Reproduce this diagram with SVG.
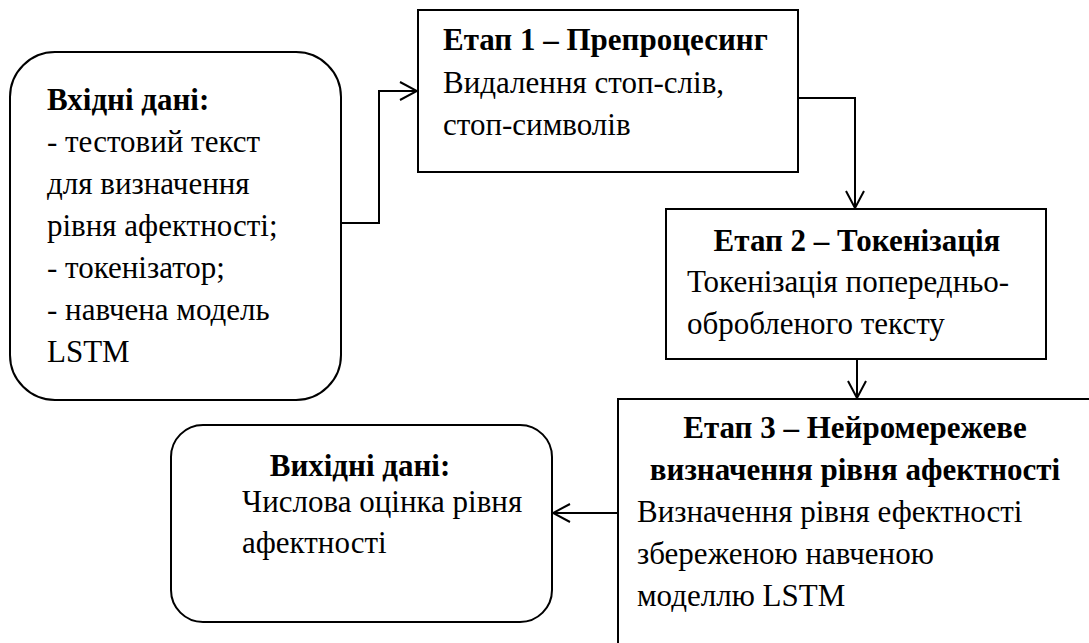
<svg xmlns="http://www.w3.org/2000/svg" width="1089" height="643" viewBox="0 0 1089 643">
  <defs>
    <marker id="arrow" viewBox="0 0 20 20" refX="19" refY="10" markerWidth="20" markerHeight="20" markerUnits="userSpaceOnUse" orient="auto">
      <path d="M2,1 L19,10 L2,19" fill="none" stroke="#000" stroke-width="2"/>
    </marker>
  </defs>

  <rect width="1089" height="643" fill="#fff"/>

  <!-- Input data -->
  <g id="input">
    <rect x="10" y="52" width="331" height="348" rx="45" ry="45" fill="#fff" stroke="#000" stroke-width="2"/>
    <text font-family="Liberation Serif" font-size="31" font-weight="bold" x="47" y="110">Вхідні дані:</text>
    <text font-family="Tinos, 'Liberation Serif', serif" font-size="31" x="47" y="152">- тестовий текст</text>
    <text font-family="Tinos, 'Liberation Serif', serif" font-size="31" x="47" y="194">для визначення</text>
    <text font-family="Tinos, 'Liberation Serif', serif" font-size="31" x="47" y="236">рівня афектності;</text>
    <text font-family="Tinos, 'Liberation Serif', serif" font-size="31" x="47" y="278">- токенізатор;</text>
    <text font-family="Tinos, 'Liberation Serif', serif" font-size="31" x="47" y="320">- навчена модель</text>
    <text font-family="Tinos, 'Liberation Serif', serif" font-size="31" x="47" y="362">LSTM</text>
  </g>

  <!-- Stage 1 -->
  <g id="stage1">
    <rect x="418" y="10" width="380" height="162" fill="#fff" stroke="#000" stroke-width="2"/>
    <text font-family="Liberation Serif" font-size="31" font-weight="bold" x="443" y="50">Етап 1 – Препроцесинг</text>
    <text font-family="Tinos, 'Liberation Serif', serif" font-size="31" x="443" y="93">Видалення стоп-слів,</text>
    <text font-family="Tinos, 'Liberation Serif', serif" font-size="31" x="443" y="135">стоп-символів</text>
  </g>

  <!-- Stage 2 -->
  <g id="stage2">
    <rect x="666" y="209" width="380" height="150" fill="#fff" stroke="#000" stroke-width="2"/>
    <text font-family="Liberation Serif" font-size="31" font-weight="bold" text-anchor="middle" x="857" y="251">Етап 2 – Токенізація</text>
    <text font-family="Tinos, 'Liberation Serif', serif" font-size="31" x="687" y="292">Токенізація попередньо-</text>
    <text font-family="Tinos, 'Liberation Serif', serif" font-size="31" x="687" y="334">обробленого тексту</text>
  </g>

  <!-- Stage 3 -->
  <g id="stage3">
    <rect x="618" y="399" width="500" height="270" fill="#fff" stroke="#000" stroke-width="2"/>
    <text font-family="Liberation Serif" font-size="31" font-weight="bold" text-anchor="middle" x="855" y="438">Етап 3 – Нейромережеве</text>
    <text font-family="Liberation Serif" font-size="31" font-weight="bold" text-anchor="middle" x="855" y="480">визначення рівня афектності</text>
    <text font-family="Tinos, 'Liberation Serif', serif" font-size="31" x="637" y="522">Визначення рівня ефектності</text>
    <text font-family="Tinos, 'Liberation Serif', serif" font-size="31" x="637" y="564">збереженою навченою</text>
    <text font-family="Tinos, 'Liberation Serif', serif" font-size="31" x="637" y="606">моделлю LSTM</text>
  </g>

  <!-- Output data -->
  <g id="output">
    <rect x="171" y="425" width="381" height="197" rx="32" ry="32" fill="#fff" stroke="#000" stroke-width="2"/>
    <text font-family="Liberation Serif" font-size="31" font-weight="bold" text-anchor="middle" x="360" y="476">Вихідні дані:</text>
    <text font-family="Tinos, 'Liberation Serif', serif" font-size="31" x="242" y="512">Числова оцінка рівня</text>
    <text font-family="Tinos, 'Liberation Serif', serif" font-size="31" x="242" y="553">афектності</text>
  </g>

  <!-- Connectors -->
  <g id="connectors" fill="none" stroke="#000" stroke-width="2">
    <path d="M341,223 H379 V91 H417" marker-end="url(#arrow)"/>
    <path d="M798,98 H855 V208" marker-end="url(#arrow)"/>
    <path d="M857,359 V398" marker-end="url(#arrow)"/>
    <path d="M618,513 H553" marker-end="url(#arrow)"/>
  </g>
</svg>
